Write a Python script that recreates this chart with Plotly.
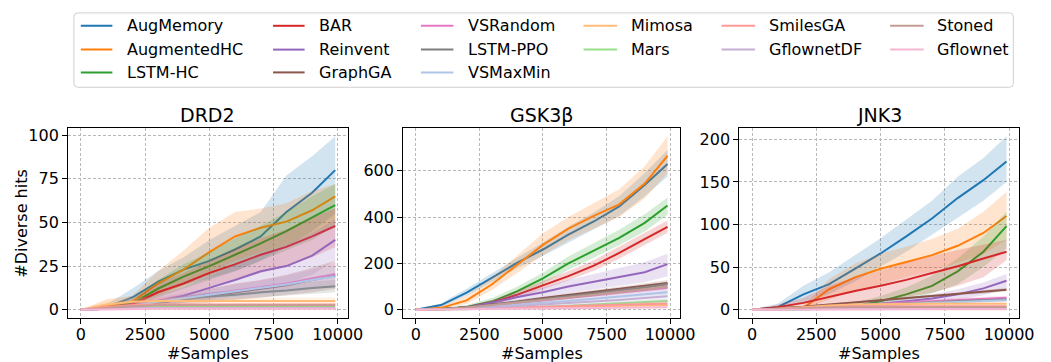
import plotly.graph_objects as go

W, H = 1051, 362

SAMPLES = [0, 1000, 2000, 3000, 4000, 5000, 6000, 7000, 8000, 9000, 9900]

METHODS = ["AugMemory", "AugmentedHC", "LSTM-HC", "BAR", "Reinvent", "GraphGA",
           "VSRandom", "LSTM-PPO", "VSMaxMin", "Mimosa", "Mars", "SmilesGA",
           "GflownetDF", "Stoned", "Gflownet"]

COLORS = ["#1f77b4", "#ff7f0e", "#2ca02c", "#d62728", "#9467bd", "#8c564b",
          "#e377c2", "#7f7f7f", "#aec7e8", "#ffbb78", "#98df8a", "#ff9896",
          "#c5b0d5", "#c49c94", "#f7b6d2"]

TASKS = ["DRD2", "GSK3β", "JNK3"]
X_TICKS = [0, 2500, 5000, 7500, 10000]
X_TICK_LABELS = ["0", "2500", "5000", "7500", "10000"]
DRD2_Y_TICKS = [0, 25, 50, 75, 100]
GSK3B_Y_TICKS = [0, 200, 400, 600]
JNK3_Y_TICKS = [0, 50, 100, 150, 200]
X_LABEL = "#Samples"
Y_LABEL = "#Diverse hits"

# ---------------- DRD2 ----------------
DRD2_MEAN = [
    [0, 1.5, 7, 16, 23, 28, 34.5, 42, 56, 67, 80],
    [0, 2, 4.5, 15, 23, 33, 42, 47, 50.5, 57, 65],
    [0, 1, 3.5, 12, 19, 25, 31.5, 38, 45, 53, 60],
    [0, 0.5, 3, 10, 15, 21, 26, 31.5, 36, 42, 48],
    [0, 0.5, 2, 5, 8, 12.5, 17, 22, 25, 31, 40],
    [0, 0.5, 2, 4, 6, 8, 10, 12, 14, 17, 19.5],
    [0, 0.5, 2.5, 5, 7, 9, 11, 13, 15, 18, 20.5],
    [0, 0.5, 2, 4, 6, 7.5, 8.5, 10, 11, 12.5, 13.5],
    [0, 0.5, 2, 4.5, 6.5, 8.5, 10.5, 12.5, 14.5, 17, 19],
    [0, 3, 4.5, 5, 5, 5, 5, 5, 5, 5, 5],
    [0, 1, 1.5, 1.5, 1.5, 1.5, 1.5, 1.5, 1.5, 1.5, 1.5],
    [0, 1.5, 2.5, 3, 3, 3, 3, 3, 3, 3, 3],
    [0, 0.5, 1, 1, 1, 1, 1, 1, 1, 1, 1],
    [0, 1, 2, 2.5, 2.5, 2.5, 2.5, 2.5, 2.5, 2.5, 2.5],
    [0, 0.3, 0.5, 0.5, 0.5, 0.5, 0.5, 0.5, 0.5, 0.5, 0.5],
]
DRD2_LOW = [
    [0, 0, 2, 9, 14, 18, 22, 28, 36, 45, 55],
    [0, 0, 2, 8, 14, 22, 28, 33, 37, 43, 48],
    [0, 0, 1, 7, 12, 17, 22, 28, 34, 40, 48],
    [0, 0, 1, 5, 9, 13, 17, 21, 25, 30, 36],
    [0, 0, 0.5, 2, 4, 6, 9, 12, 15, 20, 28],
    [0, 0, 1, 2, 3, 4, 5.5, 7, 8.5, 10, 12],
    [0, 0, 1, 3, 4.5, 6, 7.5, 9, 10.5, 12.5, 14],
    [0, 0, 1, 2.5, 4, 5, 6, 7, 8, 9, 10],
    [0, 0, 1, 3, 4.5, 6, 7.5, 9, 10, 12, 13],
    [0, 1.5, 3, 3.5, 3.5, 3.5, 3.5, 3.5, 3.5, 3.5, 3.5],
    [0, 0.5, 1, 1, 1, 1, 1, 1, 1, 1, 1],
    [0, 1, 2, 2.5, 2.5, 2.5, 2.5, 2.5, 2.5, 2.5, 2.5],
    [0, 0, 0.5, 0.5, 0.5, 0.5, 0.5, 0.5, 0.5, 0.5, 0.5],
    [0, 0.5, 1.5, 2, 2, 2, 2, 2, 2, 2, 2],
    [0, 0, 0, 0, 0, 0, 0, 0, 0, 0, 0],
]
DRD2_HIGH = [
    [0, 3, 12, 22, 30, 40, 48, 56, 77, 88, 99.4],
    [0, 6, 8, 22, 34, 47, 56, 58, 61, 68, 72],
    [0, 2, 6, 17, 26, 33, 41, 48, 56, 65, 72],
    [0, 1.5, 6, 15, 21, 28, 35, 41, 46, 53, 58],
    [0, 1.5, 4, 9, 13, 19, 26, 32, 37, 44, 52],
    [0, 1, 3.5, 6, 9, 12, 15, 17, 20, 24, 28],
    [0, 1, 4, 7, 9.5, 12, 14.5, 17, 19.5, 23, 27],
    [0, 1, 3, 5.5, 8, 10, 11, 13, 14, 16, 17],
    [0, 1, 3, 6, 8.5, 11, 13.5, 16, 19, 22, 25],
    [0, 5, 7, 7, 7, 7, 7, 7, 7, 7, 7],
    [0, 1.5, 2, 2, 2, 2, 2, 2, 2, 2, 2],
    [0, 2, 3, 3.5, 3.5, 3.5, 3.5, 3.5, 3.5, 3.5, 3.5],
    [0, 1, 1.5, 1.5, 1.5, 1.5, 1.5, 1.5, 1.5, 1.5, 1.5],
    [0, 1.5, 2.5, 3, 3, 3, 3, 3, 3, 3, 3],
    [0, 0.5, 1, 1, 1, 1, 1, 1, 1, 1, 1],
]

# ---------------- GSK3beta ----------------
GSK3B_MEAN = [
    [0, 20, 74, 139, 203, 260, 324, 381, 446, 539, 629],
    [0, 8, 40, 110, 195, 280, 350, 405, 455, 545, 665],
    [0, 3, 12, 35, 80, 135, 200, 255, 310, 375, 450],
    [0, 2, 10, 30, 65, 105, 145, 190, 245, 305, 358],
    [0, 2, 10, 30, 55, 75, 100, 120, 140, 162, 197],
    [0, 2, 10, 22, 35, 50, 63, 76, 89, 102, 115],
    [0, 1.5, 7, 17, 28, 40, 51, 62, 73, 84, 95],
    [0, 2, 10, 21, 33, 46, 58, 70, 83, 96, 110],
    [0, 1, 6, 13, 21, 30, 38, 47, 56, 65, 75],
    [0, 1, 4, 7, 9, 11, 13, 15, 17, 19, 20],
    [0, 0.5, 2, 5, 8, 12, 17, 22, 27, 32, 38],
    [0, 1, 3, 6, 9, 12, 15, 18, 21, 24, 27],
    [0, 1, 5, 10, 16, 22, 28, 35, 42, 50, 58],
    [0, 2, 9, 19, 30, 42, 53, 64, 76, 88, 100],
    [0, 0.5, 1.5, 3, 4, 5, 6, 7, 8, 9, 10],
]
GSK3B_LOW = [
    [0, 12, 60, 120, 180, 232, 290, 345, 405, 490, 575],
    [0, 3, 25, 85, 160, 235, 300, 350, 400, 480, 590],
    [0, 1, 6, 22, 62, 112, 172, 225, 278, 338, 410],
    [0, 1, 5, 20, 50, 88, 126, 168, 220, 280, 332],
    [0, 1, 5, 20, 40, 55, 72, 88, 103, 118, 145],
    [0, 1, 7, 17, 29, 42, 54, 66, 78, 90, 102],
    [0, 1, 4, 12, 21, 31, 40, 49, 58, 67, 76],
    [0, 1, 8, 18, 29, 41, 52, 63, 75, 87, 100],
    [0, 0.5, 4, 9, 15, 22, 28, 35, 42, 49, 57],
    [0, 0.5, 2, 4, 6, 8, 9, 10, 11, 12, 13],
    [0, 0, 1, 3, 5, 8, 12, 16, 20, 24, 29],
    [0, 0.5, 2, 4, 6, 8, 10, 12, 14, 16, 18],
    [0, 0.5, 3, 6, 10, 14, 18, 23, 28, 33, 38],
    [0, 1, 7, 15, 25, 35, 45, 55, 65, 76, 87],
    [0, 0, 1, 2, 3, 3.5, 4, 5, 5.5, 6, 7],
]
GSK3B_HIGH = [
    [0, 28, 90, 158, 225, 290, 358, 420, 490, 590, 690],
    [0, 15, 60, 140, 235, 330, 400, 460, 520, 620, 749],
    [0, 5, 20, 50, 100, 160, 230, 288, 345, 412, 485],
    [0, 4, 16, 42, 82, 124, 166, 214, 272, 330, 385],
    [0, 4, 16, 42, 72, 98, 128, 155, 180, 205, 242],
    [0, 3, 13, 27, 41, 58, 72, 86, 100, 114, 128],
    [0, 3, 10, 22, 35, 50, 62, 75, 88, 101, 114],
    [0, 3, 12, 24, 37, 51, 64, 77, 91, 105, 120],
    [0, 2, 8, 17, 27, 38, 48, 59, 70, 81, 93],
    [0, 2, 6, 10, 12, 14, 17, 20, 23, 26, 28],
    [0, 1, 3, 7, 11, 16, 22, 28, 34, 40, 47],
    [0, 2, 4, 8, 12, 16, 20, 24, 28, 32, 36],
    [0, 2, 7, 14, 22, 30, 38, 47, 56, 67, 78],
    [0, 3, 11, 23, 35, 49, 61, 73, 87, 100, 113],
    [0, 1, 2, 4, 5, 6.5, 8, 9, 10.5, 12, 13],
]

# ---------------- JNK3 ----------------
JNK3_MEAN = [
    [0, 3, 18, 30, 48, 66, 86, 107, 131, 152, 174],
    [0, 0.5, 2, 24, 38, 48, 56, 64, 75, 90, 110],
    [0, 0, 0.5, 1, 4, 10, 18, 28, 45, 68, 98],
    [0, 3, 8, 15, 22, 28, 35, 43, 51, 60, 68],
    [0, 0.5, 1.5, 3, 5, 7, 10, 13, 18, 25, 34],
    [0, 1.5, 3.5, 6, 8.5, 11, 13.5, 16, 18.5, 21, 23.5],
    [0, 0.5, 1.5, 3, 5, 7, 8.5, 10, 11.5, 13, 14],
    [0, 0.5, 1.5, 3, 4.5, 6, 7.5, 8.5, 10, 11, 12],
    [0, 0.5, 1.5, 2.5, 4, 5.5, 7, 8, 9, 10, 11],
    [0, 1, 3, 5, 6, 6.5, 7, 7, 7, 7, 7],
    [0, 0.5, 1, 2, 2.5, 3, 3, 3, 3, 3, 3],
    [0, 1, 2.5, 3.5, 4, 4, 4, 4, 4, 4, 4],
    [0, 0.3, 0.5, 1, 1, 1, 1, 1, 1, 1, 1],
    [0, 1, 2, 2.5, 3, 3, 3, 3, 3, 3, 3],
    [0, 0.2, 0.5, 0.5, 0.5, 0.5, 0.5, 0.5, 0.5, 0.5, 0.5],
]
JNK3_LOW = [
    [0, 0, 8, 18, 33, 50, 68, 88, 108, 128, 150],
    [0, 0, 0.5, 12, 22, 30, 38, 45, 55, 65, 82],
    [0, 0, 0, 0, 1, 5, 11, 19, 30, 50, 72],
    [0, 0, 2, 4, 7, 10, 15, 20, 28, 38, 58],
    [0, 0, 0.5, 1.5, 3, 4.5, 6.5, 9, 12, 17, 24],
    [0, 1, 2.5, 5, 7.5, 10, 12, 14.5, 17, 19, 21.5],
    [0, 0, 1, 2, 3.5, 5, 6.5, 8, 9, 10.5, 11.5],
    [0, 0, 0.5, 1.5, 3, 4.5, 6, 7, 8.5, 9.5, 10.5],
    [0, 0, 0.5, 1, 2, 3.5, 5, 6, 7, 8, 9],
    [0, 0.5, 2, 3.5, 4.5, 5, 5.5, 5.5, 5.5, 5.5, 5.5],
    [0, 0, 0.5, 1.5, 2, 2.5, 2.5, 2.5, 2.5, 2.5, 2.5],
    [0, 0.5, 2, 3, 3.5, 3.5, 3.5, 3.5, 3.5, 3.5, 3.5],
    [0, 0, 0, 0.5, 0.5, 0.5, 0.5, 0.5, 0.5, 0.5, 0.5],
    [0, 0.5, 1.5, 2, 2.5, 2.5, 2.5, 2.5, 2.5, 2.5, 2.5],
    [0, 0, 0, 0, 0, 0, 0, 0, 0, 0, 0],
]
JNK3_HIGH = [
    [0, 7, 28, 44, 64, 84, 106, 128, 156, 178, 203.5],
    [0, 1, 4, 36, 54, 66, 74, 83, 95, 115, 138],
    [0, 0, 1, 3, 8, 16, 26, 40, 60, 86, 115],
    [0, 6, 14, 28, 38, 46, 55, 63, 70, 76, 82],
    [0, 1, 3, 5, 7.5, 10, 14, 18, 24, 32, 42],
    [0, 2, 4.5, 7, 9.5, 12, 15, 17.5, 20, 23, 25.5],
    [0, 1, 2.5, 4.5, 6.5, 9, 11, 12.5, 14, 15.5, 16.5],
    [0, 1, 2.5, 4.5, 6, 7.5, 9, 10, 11.5, 12.5, 13.5],
    [0, 1, 2.5, 4, 6, 7.5, 9, 10, 11, 12, 13],
    [0, 2, 4, 6.5, 7.5, 8, 8.5, 8.5, 8.5, 8.5, 8.5],
    [0, 1, 1.5, 2.5, 3, 3.5, 3.5, 3.5, 3.5, 3.5, 3.5],
    [0, 1.5, 3, 4, 4.5, 4.5, 4.5, 4.5, 4.5, 4.5, 4.5],
    [0, 0.5, 1, 1.5, 1.5, 1.5, 1.5, 1.5, 1.5, 1.5, 1.5],
    [0, 1.5, 2.5, 3, 3.5, 3.5, 3.5, 3.5, 3.5, 3.5, 3.5],
    [0, 0.5, 1, 1, 1, 1, 1, 1, 1, 1, 1],
]

FONT = "DejaVu Sans"


def px(x):
    return x / W


def py(y):
    return 1 - y / H


def rgba(hex_color, a):
    h = hex_color.lstrip("#")
    r, g, b = int(h[0:2], 16), int(h[2:4], 16), int(h[4:6], 16)
    return f"rgba({r},{g},{b},{a})"


PANELS = [
    (DRD2_MEAN, DRD2_LOW, DRD2_HIGH, DRD2_Y_TICKS),
    (GSK3B_MEAN, GSK3B_LOW, GSK3B_HIGH, GSK3B_Y_TICKS),
    (JNK3_MEAN, JNK3_LOW, JNK3_HIGH, JNK3_Y_TICKS),
]
X_PIX = [(69, 353), (409, 690), (750, 1034)]
TOP, BOTTOM = 126.7, 319.0

fig = go.Figure()
layout = dict(
    width=W, height=H,
    margin=dict(l=0, r=0, t=0, b=0),
    paper_bgcolor="white", plot_bgcolor="white",
    font=dict(family=FONT, size=16, color="black"),
    showlegend=False,
)

axis_common = dict(
    showline=True, linecolor="black", linewidth=1, mirror=True,
    ticks="outside", ticklen=5, tickwidth=1, tickcolor="black",
    showgrid=True, gridcolor="#b8b8b8", gridwidth=0.8, griddash="3px,2px",
    zeroline=False, tickfont=dict(family=FONT, size=16, color="black"),
)

annotations = []
shapes = []

for p, (mean, low, high, yt) in enumerate(PANELS):
    suffix = "" if p == 0 else str(p + 1)
    xa, ya = "x" + suffix, "y" + suffix
    for i, m in enumerate(METHODS):
        fig.add_trace(go.Scatter(x=SAMPLES, y=low[i], xaxis=xa, yaxis=ya, mode="lines",
                                 line=dict(width=0, color=COLORS[i]), hoverinfo="skip",
                                 showlegend=False))
        fig.add_trace(go.Scatter(x=SAMPLES, y=high[i], xaxis=xa, yaxis=ya, mode="lines",
                                 line=dict(width=0, color=COLORS[i]), fill="tonexty",
                                 fillcolor=rgba(COLORS[i], 0.2), hoverinfo="skip",
                                 showlegend=False))
        fig.add_trace(go.Scatter(x=SAMPLES, y=mean[i], xaxis=xa, yaxis=ya, mode="lines",
                                 line=dict(width=2, color=COLORS[i]), name=m,
                                 showlegend=False))
    # axis ranges with 5% margins like matplotlib
    xmin, xmax = min(SAMPLES), max(SAMPLES)
    xm = 0.05 * (xmax - xmin)
    ymin = min(min(r) for r in low + mean)
    ymax = max(max(r) for r in high + mean)
    ym = 0.05 * (ymax - ymin)
    x0, x1 = X_PIX[p]
    layout["xaxis" + suffix] = dict(
        axis_common, domain=[px(x0), px(x1)], range=[xmin - xm, xmax + xm],
        tickvals=X_TICKS, ticktext=X_TICK_LABELS, anchor=ya, ticklabelstandoff=-4,
    )
    layout["yaxis" + suffix] = dict(
        axis_common, domain=[py(BOTTOM), py(TOP)], range=[ymin - ym, ymax + ym],
        tickvals=yt, ticktext=[str(v) for v in yt], anchor=xa,
    )
    cx = (x0 + x1) / 2
    annotations.append(dict(text=TASKS[p], x=px(cx), y=py(114), xref="paper", yref="paper",
                            showarrow=False, xanchor="center", yanchor="middle",
                            font=dict(family=FONT, size=19, color="black")))
    annotations.append(dict(text=X_LABEL, x=px(cx), y=py(354), xref="paper", yref="paper",
                            showarrow=False, xanchor="center", yanchor="middle",
                            font=dict(family=FONT, size=16, color="black")))

annotations.append(dict(text=Y_LABEL, x=px(21), y=py((TOP + BOTTOM) / 2), xref="paper",
                        yref="paper", showarrow=False, xanchor="center", yanchor="middle",
                        textangle=-90, font=dict(family=FONT, size=16, color="black")))

# ---- manual legend (matplotlib style, column-major, 3 rows) ----
LX0, LY0, LX1, LY1, R = 75, 11, 1028, 86, 4
path = (f"M {px(LX0 + R)},{py(LY0)} L {px(LX1 - R)},{py(LY0)} "
        f"Q {px(LX1)},{py(LY0)} {px(LX1)},{py(LY0 + R)} "
        f"L {px(LX1)},{py(LY1 - R)} Q {px(LX1)},{py(LY1)} {px(LX1 - R)},{py(LY1)} "
        f"L {px(LX0 + R)},{py(LY1)} Q {px(LX0)},{py(LY1)} {px(LX0)},{py(LY1 - R)} "
        f"L {px(LX0)},{py(LY0 + R)} Q {px(LX0)},{py(LY0)} {px(LX0 + R)},{py(LY0)} Z")
shapes.append(dict(type="path", path=path, xref="paper", yref="paper",
                   line=dict(color="#d0d0d0", width=1), fillcolor="rgba(255,255,255,0.8)",
                   layer="above"))
COL_X = [(82, 114, 127), (277, 309, 322), (427, 460, 473),
         (592, 626, 638), (732, 766, 778), (903, 937, 949)]
ROW_Y = [24, 48, 71]
col_sizes = [3, 3, 3, 2, 2, 2]
k = 0
for c, n in enumerate(col_sizes):
    for r in range(n):
        h0, h1, tx = COL_X[c]
        yy = ROW_Y[r]
        shapes.append(dict(type="line", xref="paper", yref="paper",
                           x0=px(h0), x1=px(h1), y0=py(yy), y1=py(yy),
                           line=dict(color=COLORS[k], width=2), layer="above"))
        annotations.append(dict(text=METHODS[k], x=px(tx), y=py(yy), xref="paper",
                                yref="paper", showarrow=False, xanchor="left",
                                yanchor="middle",
                                font=dict(family=FONT, size=16, color="black")))
        k += 1

layout["annotations"] = annotations
layout["shapes"] = shapes
fig.update_layout(**layout)
fig.write_html("out.html")
